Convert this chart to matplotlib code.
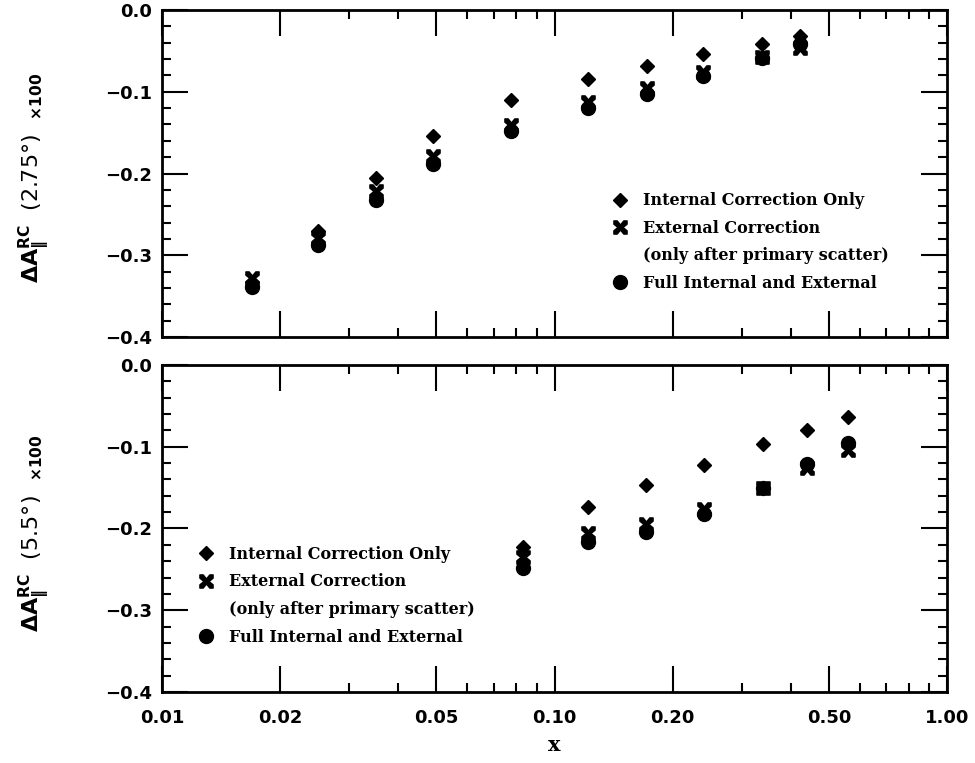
import matplotlib
matplotlib.use("Agg")
from matplotlib import pyplot as plt
from matplotlib.lines import Line2D
from matplotlib.path import Path
from matplotlib.ticker import FixedLocator, FuncFormatter, MultipleLocator
import numpy as np

# 2.75 degree spectrometer
x_275 = [0.017, 0.025, 0.035, 0.049, 0.0775, 0.1215, 0.172, 0.2385, 0.338, 0.422]
int_275 = [-0.333, -0.270, -0.206, -0.154, -0.110, -0.084, -0.068, -0.054, -0.041, -0.032]
ext_275 = [-0.328, -0.279, -0.222, -0.179, -0.141, -0.112, -0.096, -0.076, -0.058, -0.047]
full_275 = [-0.339, -0.288, -0.232, -0.188, -0.148, -0.120, -0.103, -0.081, -0.059, -0.041]

# 5.5 degree spectrometer
x_55 = [0.0833, 0.122, 0.1707, 0.2404, 0.339, 0.439, 0.5607]
int_55 = [-0.223, -0.174, -0.147, -0.122, -0.097, -0.080, -0.064]
ext_55 = [-0.235, -0.206, -0.195, -0.176, -0.150, -0.126, -0.104]
full_55 = [-0.248, -0.217, -0.204, -0.182, -0.150, -0.121, -0.095]

xticks = [0.01, 0.02, 0.05, 0.10, 0.20, 0.50, 1.00]
xticklabels = ["0.01", "0.02", "0.05", "0.10", "0.20", "0.50", "1.00"]

# chunky flared cross
v = [(0.38, 0), (1, 0.5), (1, 1), (0.5, 1), (0, 0.38), (-0.5, 1), (-1, 1), (-1, 0.5),
     (-0.38, 0), (-1, -0.5), (-1, -1), (-0.5, -1), (0, -0.38), (0.5, -1), (1, -1),
     (1, -0.5), (0.38, 0)]
xmark = Path(v, [Path.MOVETO] + [Path.LINETO] * (len(v) - 2) + [Path.CLOSEPOLY])

plt.rcParams['mathtext.fontset'] = 'dejavusans'
lab_font = dict(family='DejaVu Serif', weight='bold', size=11.5)

fig = plt.figure(figsize=(9.75, 7.63), dpi=100)
ax1 = fig.add_axes([0.1662, 0.5583, 0.8051, 0.4286])
ax2 = fig.add_axes([0.1662, 0.0931, 0.8051, 0.4286])


def fmt_y(v, pos):
    s = f"{v:.1f}"
    if s == "-0.0":
        s = "0.0"
    return s.replace('-', '\u2212')


def draw(ax, x, yi, ye, yf, angle, leg_xy, show_x):
    ax.plot(x, yi, linestyle='none', marker='D', ms=6.8, color='black')
    ax.plot(x, ye, linestyle='none', marker=xmark, ms=9.5, color='black')
    ax.plot(x, yf, linestyle='none', marker='o', ms=10, color='black')

    ax.set_xscale('log')
    ax.set_xlim(0.01, 1.0)
    ax.set_ylim(-0.4, 0.0)
    ax.xaxis.set_major_locator(FixedLocator(xticks))
    minors = [m * 10.0 ** e for e in (-2, -1) for m in (3, 4, 6, 7, 8, 9)]
    ax.xaxis.set_minor_locator(FixedLocator(minors))
    ax.yaxis.set_major_locator(MultipleLocator(0.1))
    ax.yaxis.set_minor_locator(MultipleLocator(0.02))
    ax.yaxis.set_major_formatter(FuncFormatter(fmt_y))
    ax.xaxis.set_minor_formatter(FuncFormatter(lambda v, p: ""))
    if show_x:
        ax.set_xticklabels(xticklabels)
        ax.set_xlabel('x', fontdict=lab_font, fontsize=15, labelpad=6)
    else:
        ax.xaxis.set_ticklabels([])

    ax.tick_params(which='both', direction='in', top=True, right=True, width=1.5)
    ax.tick_params(which='major', length=19, labelsize=13, pad=7)
    ax.tick_params(which='minor', length=6.5)
    ax.tick_params(axis='x', which='major', pad=12)
    for t in ax.get_xticklabels() + ax.get_yticklabels():
        t.set_fontfamily('DejaVu Sans')
        t.set_fontweight('bold')
    for s in ax.spines.values():
        s.set_linewidth(2)

    ax.set_ylabel(r'$\mathbf{\Delta A_{\|}^{RC}}$  (' + angle + r'$\degree$)  $\mathbf{_{\times 100}}$',
                  fontsize=16, fontfamily='DejaVu Sans')
    ax.yaxis.set_label_coords(-0.14, 0.485)

    handles = [
        Line2D([], [], linestyle='none', marker='D', ms=6.8, color='black'),
        Line2D([], [], linestyle='none', marker=xmark, ms=9.5, color='black'),
        Line2D([], [], linestyle='none'),
        Line2D([], [], linestyle='none', marker='o', ms=10, color='black'),
    ]
    labels = ['Internal Correction Only', 'External Correction',
              '(only after primary scatter)', 'Full Internal and External']
    ax.legend(handles, labels, loc='upper left', bbox_to_anchor=leg_xy, frameon=False,
              prop=lab_font, handlelength=1.05, handletextpad=0.92, labelspacing=0.66,
              borderpad=0, borderaxespad=0)


draw(ax1, x_275, int_275, ext_275, full_275, '2.75', (0.573, 0.443), False)
draw(ax2, x_55, int_55, ext_55, full_55, '5.5', (0.0455, 0.4465), True)

fig.savefig('out.png', dpi=100)
